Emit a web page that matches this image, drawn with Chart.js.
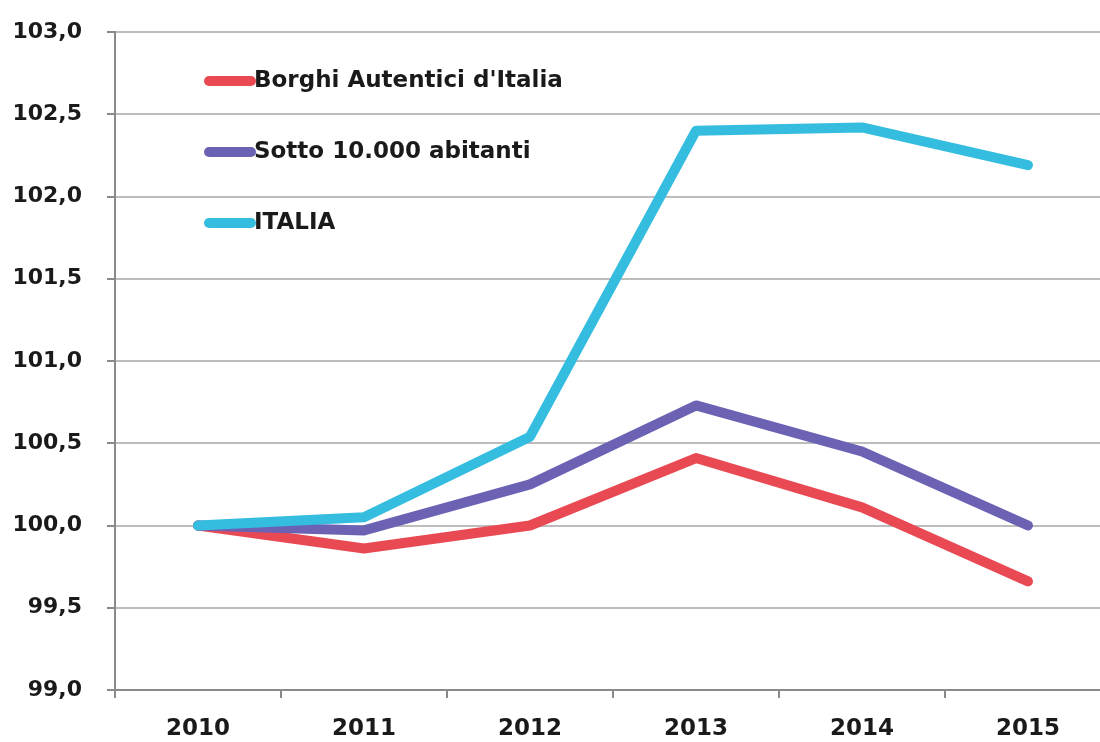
<!DOCTYPE html>
<html>
<head>
<meta charset="utf-8">
<script src="https://cdn.jsdelivr.net/npm/chart.js@4.4.1/dist/chart.umd.min.js"></script>
<style>
  html, body { margin: 0; padding: 0; background: #fff; overflow: hidden; }
  #wrap { width: 1112px; height: 742px; position: relative; }
</style>
</head>
<body>
<div id="wrap"><canvas id="c"></canvas></div>
<script>
const categories = ['2010', '2011', '2012', '2013', '2014', '2015'];
const borghi = [100.0, 99.86, 100.0, 100.41, 100.11, 99.66];
const sotto = [100.0, 99.97, 100.25, 100.73, 100.45, 100.0];
const italia = [100.0, 100.05, 100.54, 102.40, 102.42, 102.19];
const seriesNames = ["Borghi Autentici d'Italia", 'Sotto 10.000 abitanti', 'ITALIA'];
const yTickValues = [99.0, 99.5, 100.0, 100.5, 101.0, 101.5, 102.0, 102.5, 103.0];
const yTickLabels = ['99,0', '99,5', '100,0', '100,5', '101,0', '101,5', '102,0', '102,5', '103,0'];

const colors = ['#E94952', '#6B62B4', '#35BDE0'];

const legendPlugin = {
  id: 'innerLegend',
  afterDraw(chart) {
    const ctx = chart.ctx;
    const rows = [81, 152, 223];
    ctx.save();
    chart.data.datasets.forEach((ds, i) => {
      const y = rows[i];
      ctx.strokeStyle = ds.borderColor;
      ctx.lineWidth = 10;
      ctx.lineCap = 'round';
      ctx.beginPath();
      ctx.moveTo(209, y);
      ctx.lineTo(251, y);
      ctx.stroke();
      ctx.fillStyle = '#1a1a1a';
      ctx.font = 'bold 23px "DejaVu Sans"';
      ctx.textBaseline = 'middle';
      ctx.textAlign = 'left';
      ctx.fillText(ds.label, 254, y);
    });
    ctx.restore();
  }
};

new Chart(document.getElementById('c'), {
  type: 'line',
  data: {
    labels: categories,
    datasets: [
      { label: seriesNames[0], data: borghi, borderColor: colors[0], order: 3 },
      { label: seriesNames[1], data: sotto, borderColor: colors[1], order: 2 },
      { label: seriesNames[2], data: italia, borderColor: colors[2], order: 1 }
    ].map(d => Object.assign(d, {
      borderWidth: 10, pointRadius: 0, pointHoverRadius: 0, fill: false, tension: 0,
      borderCapStyle: 'round', borderJoinStyle: 'round'
    }))
  },
  options: {
    responsive: true,
    maintainAspectRatio: false,
    animation: false,
    layout: { padding: { top: 32, left: 0, right: 1, bottom: 0 } },
    plugins: { legend: { display: false }, tooltip: { enabled: false } },
    scales: {
      x: {
        offset: true,
        grid: { offset: true, drawOnChartArea: false, drawTicks: true, tickLength: 8, color: '#8a8a8a', lineWidth: 2 },
        border: { display: true, color: '#8a8a8a', width: 2 },
        ticks: { color: '#1a1a1a', font: { family: 'DejaVu Sans', size: 23, weight: 'bold' }, padding: 17, maxRotation: 0 },
        afterFit(scale) { scale.height = 52; }
      },
      y: {
        min: 99, max: 103,
        afterBuildTicks(scale) { scale.ticks = yTickValues.map(v => ({ value: v })); },
        grid: { color: '#bdbdbd', lineWidth: 2, tickLength: 8, tickColor: '#8a8a8a' },
        border: { display: true, color: '#8a8a8a', width: 2 },
        ticks: {
          color: '#1a1a1a', font: { family: 'DejaVu Sans', size: 22, weight: 'bold' }, padding: 25,
          callback(value) { const i = yTickValues.indexOf(value); return i >= 0 ? yTickLabels[i] : ''; }
        },
        afterFit(scale) { scale.width = 115; scale.paddingTop = 0; scale.paddingBottom = 0; }
      }
    }
  },
  plugins: [legendPlugin]
});
</script>
</body>
</html>
